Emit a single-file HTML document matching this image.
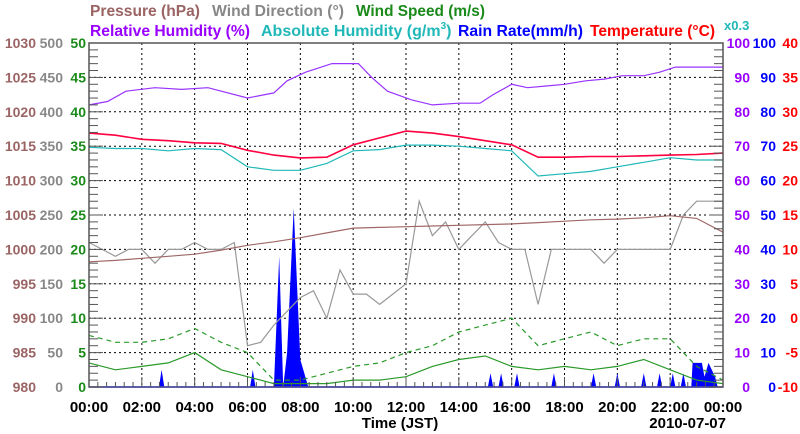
<!DOCTYPE html>
<html><head><meta charset="utf-8">
<style>
body{margin:0;background:#fff;}
svg{display:block;}
svg text{font-family:"Liberation Sans",Arial,sans-serif;font-weight:bold;}
</style></head>
<body>
<svg id="chart" width="800" height="434" viewBox="0 0 800 434" xmlns="http://www.w3.org/2000/svg">
<g font-size="16" font-family="Liberation Sans, sans-serif" font-weight="bold">
<text x="90" y="16" fill="#9b6464" textLength="110" lengthAdjust="spacingAndGlyphs">Pressure (hPa)</text>
<text x="212" y="16" fill="#888" textLength="132" lengthAdjust="spacingAndGlyphs">Wind Direction (°)</text>
<text x="356" y="16" fill="#1a8a1a" textLength="129" lengthAdjust="spacingAndGlyphs">Wind Speed (m/s)</text>
<text x="90" y="36" fill="#9900ff" textLength="160" lengthAdjust="spacingAndGlyphs">Relative Humidity (%)</text>
<text x="261" y="36" fill="#20b8b8">Absolute Humidity (g/m<tspan font-size="10" dy="-7">3</tspan><tspan dy="7">)</tspan></text>
<text x="458" y="36" fill="#0000ff" textLength="125" lengthAdjust="spacingAndGlyphs">Rain Rate(mm/h)</text>
<text x="590" y="36" fill="#ff0000" textLength="125" lengthAdjust="spacingAndGlyphs">Temperature (°C)</text>
<text x="724" y="30" fill="#20b8b8" font-size="13">x0.3</text>
</g>
<g id="grid"></g>
<g id="series"></g>
<g id="axes"></g>
</svg>
<script>
const hours=[0,1,2,3,4,5,6,7,8,9,10,11,12,13,14,15,16,17,18,19,20,21,22,23,24];
const halfHours=[0,0.5,1,1.5,2,2.5,3,3.5,4,4.5,5,5.5,6,6.5,7,7.5,8,8.5,9,9.5,10,10.5,11,11.5,12,12.5,13,13.5,14,14.5,15,15.5,16,16.5,17,17.5,18,18.5,19,19.5,20,20.5,21,21.5,22,22.5,23,23.5,24];
const rhTimes=[0,0.7,1.4,2.5,3.5,4.5,6,7,7.5,8.2,9.2,10.2,10.7,11.3,12.2,13,14,14.8,15.3,16,16.6,17.3,18,18.8,19.5,20.2,21,21.6,22.2,23,24];
const rhSeries=[82,83,86,87,86.5,87,84,85.5,89,91.5,94,94,90,86,83.5,82,82.5,82.5,85,88,87,87.5,88,89,89.5,90.5,90.5,91.5,93,93,93];
const tempValues=[26.9,26.6,26.0,25.8,25.5,25.4,24.4,23.7,23.3,23.4,25.2,26.2,27.2,26.9,26.4,25.8,25.2,23.4,23.4,23.5,23.5,23.6,23.7,23.8,24.0];
const absHumValues=[20.9,20.8,20.8,20.6,20.8,20.7,19.2,18.9,18.9,19.5,20.6,20.7,21.1,21.1,21.0,20.8,20.6,18.4,18.6,18.8,19.2,19.6,20.0,19.8,19.8];
const pressureValues=[998.2,998.4,998.7,999.0,999.3,999.9,1000.6,1001.1,1001.7,1002.4,1003.1,1003.2,1003.3,1003.4,1003.5,1003.6,1003.7,1003.9,1004.1,1004.3,1004.4,1004.6,1004.9,1004.5,1002.5];
const windDirValues=[210,200,190,200,200,180,200,200,210,200,200,210,60,65,90,110,130,140,100,170,135,135,120,135,150,270,220,240,200,220,240,210,200,200,120,200,200,200,200,180,200,200,200,200,200,250,270,270,270];
const windSpeedValues=[3.5,2.5,3,3.5,5,2.5,1.5,0.5,0.5,0.5,1,1,1.5,3,4,4.5,3,2.5,3,2.5,3,4,2.5,1,0.5];
const gustValues=[7.5,6.5,6.5,7,8.5,6.5,5,1,1,2,3,3.5,5,6,8,9,10,6,7,8,6,7,7,3,1];
const rainTimes=[0,2.65,2.75,2.85,6.1,6.2,6.3,7.0,7.2,7.35,7.5,7.75,8.0,8.3,15.1,15.2,15.3,15.5,15.6,15.7,16.1,16.2,16.3,17.5,17.6,17.7,19.0,19.1,19.2,19.9,20.0,20.1,20.9,21.0,21.1,21.5,21.6,21.7,22.0,22.1,22.2,22.4,22.5,22.6,22.8,22.85,23.2,23.3,23.45,23.7,23.8,24];
const rainValues=[0,0,5,0,0,5,0,0,38,0,10,52,8,0,0,4,0,0,4,0,0,4,0,0,4,0,0,4,0,0,4,0,0,4,0,0,4,0,0,4,0,0,4,0,0,7,7,3,7,3,0,0];
const xTicks=["00:00","02:00","04:00","06:00","08:00","10:00","12:00","14:00","16:00","18:00","20:00","22:00","00:00"];
const pressTicks=[980,985,990,995,1000,1005,1010,1015,1020,1025,1030];
const dirTicks=[0,50,100,150,200,250,300,350,400,450,500];
const speedTicks=[0,5,10,15,20,25,30,35,40,45,50];
const rhTicks=[0,10,20,30,40,50,60,70,80,90,100];
const rainTicks=[0,10,20,30,40,50,60,70,80,90,100];
const tempTicks=[-10,-5,0,5,10,15,20,25,30,35,40];

const L=89,R=723,T=43,B=387,NS="http://www.w3.org/2000/svg";
const X=h=>L+(R-L)*h/24;
const Yn=(v,lo,hi)=>B-(B-T)*(v-lo)/(hi-lo);
function el(tag,attrs,parent){const e=document.createElementNS(NS,tag);for(const k in attrs)e.setAttribute(k,attrs[k]);parent.appendChild(e);return e;}
const grid=document.getElementById('grid'),series=document.getElementById('series'),axes=document.getElementById('axes');

for(let i=1;i<10;i++){const y=Yn(i,0,10);const g=el('line',{x1:L,x2:R,y1:y,y2:y,stroke:'#000','stroke-width':1,'stroke-dasharray':'2,3'},grid);

}
for(let i=1;i<12;i++){const x=X(i*2);const g=el('line',{x1:x,x2:x,y1:T,y2:B,stroke:'#000','stroke-width':1,'stroke-dasharray':'2,3'},grid);

}

function line(ts,vs,lo,hi,color,name,extra){const pts=ts.map((t,i)=>X(t).toFixed(1)+','+Yn(vs[i],lo,hi).toFixed(1)).join(' ');
const p=el('polyline',Object.assign({points:pts,fill:'none',stroke:color,'stroke-width':1.2},extra||{}),series);

}

{const pts=[X(0)+','+B].concat(rainTimes.map((t,i)=>X(t).toFixed(1)+','+Yn(rainValues[i],0,100).toFixed(1))).concat([X(24)+','+B]).join(' ');
const p=el('polygon',{points:pts,fill:'#0000ff'},series);

}
line(hours,gustValues,0,50,'#2a9a2a','wind-gust-line',{'stroke-dasharray':'5,4'});
line(hours,windSpeedValues,0,50,'#2a9a2a','wind-speed-line');
line(halfHours,windDirValues,0,500,'#999','wind-direction-line');
line(hours,pressureValues,980,1030,'#a06868','pressure-line');
line(hours,absHumValues.map(v=>v/0.3),0,100,'#20b8b8','absolute-humidity-line');
line(hours,tempValues,-10,40,'#ff0040','temperature-line',{'stroke-width':1.6});
line(rhTimes,rhSeries,0,100,'#9933ff','relative-humidity-line');

{const f=el('rect',{x:L,y:T,width:R-L,height:B-T,fill:'none',stroke:'#555','stroke-width':1.5},axes);


const bl=el('line',{x1:L,x2:R,y1:B,y2:B,stroke:'#4444aa','stroke-width':1.5},axes);

}
for(let i=0;i<=50;i++){const y=Yn(i,0,50);const len=i%5==0?14:9;
const a=el('line',{x1:L,x2:L+len,y1:y,y2:y,stroke:'#555','stroke-width':1},axes);


const b=el('line',{x1:R-len,x2:R,y1:y,y2:y,stroke:'#555','stroke-width':1},axes);

}
for(let i=0;i<=72;i++){const x=X(i/3);const len=i%6==0?10:5;
const a=el('line',{x1:x,x2:x,y1:B-len,y2:B,stroke:'#555','stroke-width':1},axes);

}

function lbl(x,y,txt,color,anchor,name,fs){const t=el('text',{x:x,y:y,fill:color,'font-size':fs||14,'text-anchor':anchor,'font-family':'Liberation Sans, Arial, sans-serif','font-weight':'bold'},axes);t.textContent=txt;

}
for(let i=0;i<=10;i++){const y=Yn(i,0,10)+5;
lbl(36,y,pressTicks[i],'#9b6464','end','pressure-tick-label');
lbl(63,y,dirTicks[i],'#888','end','direction-tick-label');
lbl(86,y,speedTicks[i],'#1a8a1a','end','speed-tick-label');
lbl(750,y,rhTicks[i],'#9900ff','end','rh-tick-label');
lbl(776,y,rainTicks[i],'#0000ff','end','rain-tick-label');
lbl(798,y,tempTicks[i],'#ff0000','end','temp-tick-label');}
xTicks.forEach((s,i)=>lbl(X(i*2),412,s,'#000','middle','x-tick-label',15));
lbl(400,428,'Time (JST)','#000','middle','x-axis-title',15);
lbl(726,428,'2010-07-07','#000','end','date-label',15);
</script>
</body></html>
